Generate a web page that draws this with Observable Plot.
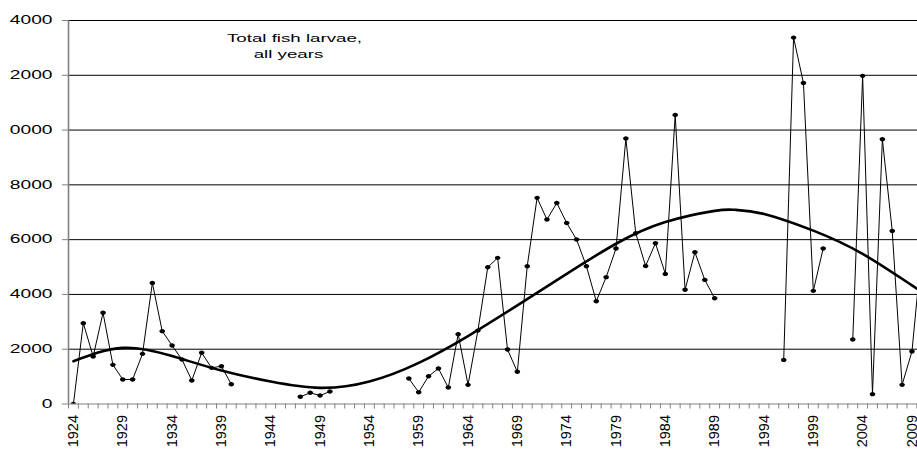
<!DOCTYPE html>
<html>
<head>
<meta charset="utf-8">
<script src="https://cdn.jsdelivr.net/npm/d3@7"></script>
<script src="https://cdn.jsdelivr.net/npm/@observablehq/plot@0.6"></script>
<style>
  body { margin: 0; background: #fff; }
  #chart svg { display: block; }
</style>
</head>
<body>
<div id="chart"></div>
<script>
// Survey years (one category per year) and total fish larvae counted; null = no survey
const years = [
  1924, 1925, 1926, 1927, 1928, 1929, 1930, 1931, 1932, 1933,
  1934, 1935, 1936, 1937, 1938, 1939, 1940, 1941, 1942, 1943,
  1944, 1945, 1946, 1947, 1948, 1949, 1950, 1951, 1952, 1953,
  1954, 1955, 1956, 1957, 1958, 1959, 1960, 1961, 1962, 1963,
  1964, 1965, 1966, 1967, 1968, 1969, 1970, 1971, 1972, 1973,
  1974, 1975, 1976, 1977, 1978, 1979, 1980, 1981, 1982, 1983,
  1984, 1985, 1986, 1987, 1988, 1989, 1990, 1991, 1992, 1993,
  1994, 1995, 1996, 1997, 1998, 1999, 2000, 2001, 2002, 2003,
  2004, 2005, 2006, 2007, 2008, 2009, 2010
];
const larvae = [
  0, 2950, 1735, 3330, 1430, 895, 895, 1830, 4420, 2660,
  2135, 1625, 860, 1870, 1320, 1380, 720, null, null, null,
  null, null, null, 263, 408, 310, 456, null, null, null,
  null, null, null, null, 930, 430, 1015, 1295, 600, 2550,
  700, 2680, 4990, 5335, 1990, 1175, 5030, 7525, 6735, 7340,
  6610, 6005, 5030, 3750, 4630, 5675, 9690, 6235, 5040, 5870,
  4750, 10550, 4170, 5540, 4530, 3860, null, null, null, null,
  null, null, 1610, 13375, 11720, 4130, 5675, null, null, 2355,
  11980, 360, 9665, 6320, 700, 1915, 5700
];

// Long-term trend curve through the series
const trendYears  = [1924, 1929, 1934, 1939, 1944, 1949, 1954, 1959, 1964, 1969, 1974, 1979, 1984, 1989, 1991, 1994, 1999, 2004, 2009, 2010];
const trendValues = [1560, 2050, 1750, 1220,  820,  590,  820, 1500, 2480, 3600, 4750, 5850, 6640, 7050, 7090, 6940, 6330, 5480, 4330, 4120];

// Axis ticks and their printed labels
const yTicks = [0, 2000, 4000, 6000, 8000, 10000, 12000, 14000];
const yTickLabels = ["0", "2000", "4000", "6000", "8000", "0000", "2000", "4000"];
const xLabelYears = [1924, 1929, 1934, 1939, 1944, 1949, 1954, 1959, 1964, 1969, 1974, 1979, 1984, 1989, 1994, 1999, 2004, 2009];
const xTickLabels = ["1924", "1929", "1934", "1939", "1944", "1949", "1954", "1959", "1964", "1969", "1974", "1979", "1984", "1989", "1994", "1999", "2004", "2009"];

const titleLines = ["Total fish larvae,", "all years"];

const series = years.map((year, i) => ({year, value: larvae[i]}));
const samples = series.filter(d => d.value != null);
const trend = trendYears.map((year, i) => ({year, value: trendValues[i]}));
const boundaries = years.map(y => y - 0.5).concat([years[years.length - 1] + 0.5]);

// Slightly flattened round marker
const ellipse = {
  draw(context, size) {
    const r = Math.sqrt(size / Math.PI);
    const rx = r * 1.27, ry = r, k = 0.5523;
    context.moveTo(rx, 0);
    context.bezierCurveTo(rx, k * ry, k * rx, ry, 0, ry);
    context.bezierCurveTo(-k * rx, ry, -rx, k * ry, -rx, 0);
    context.bezierCurveTo(-rx, -k * ry, -k * rx, -ry, 0, -ry);
    context.bezierCurveTo(k * rx, -ry, rx, -k * ry, rx, 0);
    context.closePath();
  }
};

const W = 917, H = 451;
const left = 68, pxPerYear = 9.865;

const chart = Plot.plot({
  width: W,
  height: H,
  marginLeft: left,
  marginRight: 0,
  marginTop: 20,
  marginBottom: 47.5,
  style: {fontFamily: "'Liberation Sans', Arial, sans-serif", color: "black", background: "white"},
  x: {domain: [boundaries[0], boundaries[boundaries.length - 1]],
      range: [left, left + pxPerYear * (boundaries.length - 1)]},
  y: {domain: [0, 14000]},
  marks: [
    Plot.ruleY(yTicks.slice(1), {stroke: "black", strokeWidth: 1}),
    Plot.ruleY([0], {stroke: "#808080", strokeWidth: 1.2}),
    Plot.ruleX([boundaries[0]], {stroke: "#808080", strokeWidth: 1.6}),
    Plot.axisY({ticks: yTicks, tickSize: 6, tickPadding: 10, fontSize: 12, label: null,
                stroke: "#808080",
                tickFormat: v => yTickLabels[yTicks.indexOf(v)]}),
    Plot.axisX({ticks: boundaries, tickSize: 5, tickFormat: () => "", label: null, stroke: "#808080"}),
    Plot.axisX({ticks: xLabelYears, tickSize: 0, tickPadding: 11, tickRotate: -90, fontSize: 14.5, label: null,
                tickFormat: v => xTickLabels[xLabelYears.indexOf(v)]}),
    Plot.line(series, {x: "year", y: "value", stroke: "black", strokeWidth: 1, clip: true}),
    Plot.line(trend, {x: "year", y: "value", curve: "natural", stroke: "black", strokeWidth: 2.6, clip: true}),
    Plot.dot(samples, {x: "year", y: "value", symbol: ellipse, r: 2.2, fill: "black", stroke: "none", clip: true}),
    Plot.text([titleLines[0]], {frameAnchor: "top-left", dx: 294 - left, dy: 41.3 - 20,
                                textAnchor: "middle", lineAnchor: "bottom", fontSize: 11.7}),
    Plot.text([titleLines[1]], {frameAnchor: "top-left", dx: 288 - left, dy: 57.5 - 20,
                                textAnchor: "middle", lineAnchor: "bottom", fontSize: 11.7})
  ]
});

document.getElementById("chart").append(chart);

// Horizontal labels are set in a wide face: stretch them about their anchor point
chart.querySelectorAll('g[aria-label="y-axis tick label"] text, g[aria-label="text"] text').forEach(t => {
  let tr = t.getAttribute("transform") || "";
  const x = t.getAttribute("x");
  if (x != null && !isNaN(+x)) {
    tr = `translate(${+x},0) ` + tr;
    t.removeAttribute("x");
  }
  t.setAttribute("transform", (tr + " scale(1.6,1)").trim());
});
</script>
</body>
</html>
